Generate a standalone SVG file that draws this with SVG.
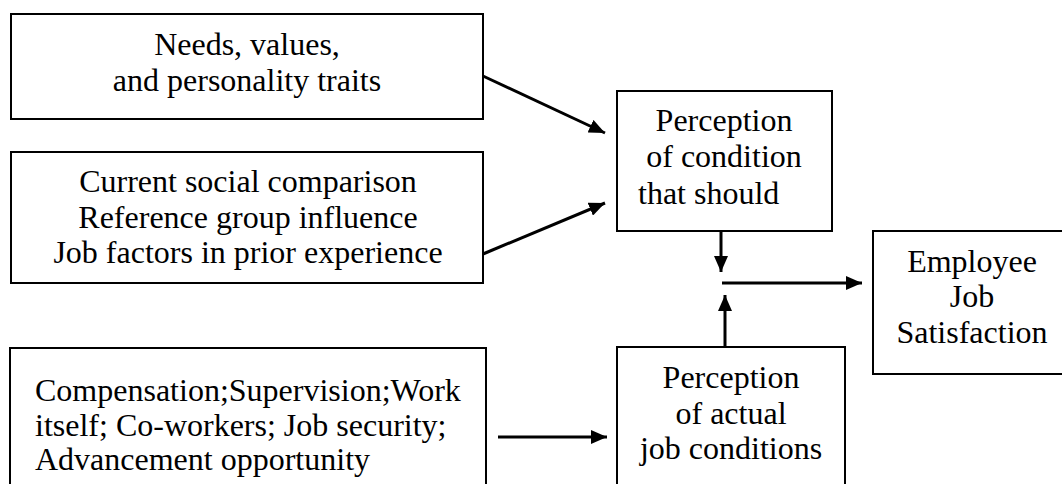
<svg xmlns="http://www.w3.org/2000/svg" width="1062" height="484" viewBox="0 0 1062 484">
<style>
.box{fill:#fff;stroke:#000;stroke-width:2}
text{font-family:'Liberation Serif','Times New Roman',serif;font-size:32px;fill:#000}
.c{text-anchor:middle}
.ln{stroke:#000;stroke-width:3;fill:none}
</style>
<defs>
<marker id="ah" markerUnits="userSpaceOnUse" markerWidth="16" markerHeight="14" refX="16" refY="7" orient="auto">
<path d="M0,0 L16,7 L0,14 z" fill="#000"/>
</marker>
</defs>
<rect width="1062" height="484" fill="#fff"/>
<g id="needs">
<rect class="box" x="11" y="14" width="472" height="105"/>
<text class="c" x="247" y="55">Needs, values,</text>
<text class="c" x="247" y="91">and personality traits</text>
</g>
<g id="social">
<rect class="box" x="11" y="152" width="472" height="131"/>
<text class="c" x="248" y="192">Current social comparison</text>
<text class="c" x="248" y="228">Reference group influence</text>
<text class="c" x="248" y="263">Job factors in prior experience</text>
</g>
<g id="factors">
<rect class="box" x="10" y="348" width="476" height="150"/>
<text x="35" y="401">Compensation;Supervision;Work</text>
<text x="35" y="436">itself; Co-workers; Job security;</text>
<text x="35" y="470">Advancement opportunity</text>
</g>
<g id="should">
<rect class="box" x="617" y="91" width="215" height="140"/>
<text class="c" x="724" y="131">Perception</text>
<text class="c" x="724" y="167">of condition</text>
<text x="638" y="204">that should</text>
</g>
<g id="actual">
<rect class="box" x="617" y="347" width="228" height="150"/>
<text class="c" x="731" y="388">Perception</text>
<text class="c" x="731" y="424">of actual</text>
<text class="c" x="731" y="459">job conditions</text>
</g>
<g id="satisfaction">
<rect class="box" x="873" y="231" width="200" height="143"/>
<text class="c" x="972" y="272">Employee</text>
<text class="c" x="972" y="307">Job</text>
<text class="c" x="972" y="343">Satisfaction</text>
</g>
<g id="connectors">
<line class="ln" x1="483" y1="76" x2="605" y2="133" marker-end="url(#ah)"/>
<line class="ln" x1="483" y1="254" x2="605" y2="203" marker-end="url(#ah)"/>
<line class="ln" x1="721" y1="231" x2="721" y2="272" marker-end="url(#ah)"/>
<line class="ln" x1="725" y1="347" x2="725" y2="295" marker-end="url(#ah)"/>
<line class="ln" x1="722" y1="283" x2="862" y2="283" marker-end="url(#ah)"/>
<line class="ln" x1="498" y1="437" x2="607" y2="437" marker-end="url(#ah)"/>
</g>
</svg>
